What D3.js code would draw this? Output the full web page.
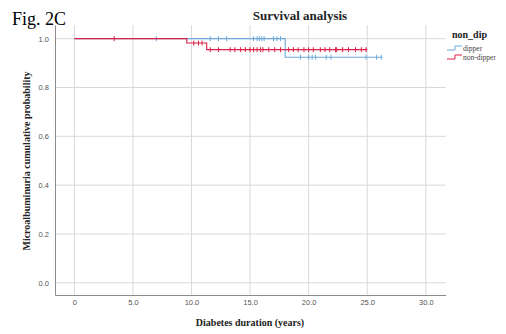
<!DOCTYPE html>
<html><head><meta charset="utf-8">
<script src="https://cdn.jsdelivr.net/npm/d3@7"></script>
<style>
html,body{margin:0;padding:0;background:#fff;}
svg{display:block;}
</style></head>
<body>
<svg id="chart" width="506" height="334"></svg>
<script>
// ---- data ----
const groups = ["dipper", "non-dipper"];
const dipperStepTimes = [0, 18.0];
const dipperStepSurv = [1.0, 0.924];
const dipperEnd = 26.3;
const dipperCensor = [7.0, 11.6, 12.3, 13.0, 15.3, 15.6, 15.8, 16.0, 16.2, 17.0, 17.3, 17.6,
  19.3, 20.0, 20.3, 20.6, 21.5, 21.9, 24.9, 25.8, 26.2];
const nonDipperStepTimes = [0, 9.6, 11.3];
const nonDipperStepSurv = [1.0, 0.982, 0.955];
const nonDipperEnd = 25.0;
const nonDipperCensor = [3.4, 10.2, 10.6, 10.9, 11.6, 12.3, 13.3, 13.7, 14.2, 14.6, 15.0, 15.3,
  15.6, 15.9, 16.1, 16.6, 17.1, 17.6, 18.3, 18.7, 19.1, 19.6, 20.0, 20.4, 21.0, 21.4, 21.8,
  22.3, 22.4, 22.9, 23.4, 24.0, 24.5, 24.9];
const xTicks = [0, 5, 10, 15, 20, 25, 30];
const xTickLabels = ["0", "5.0", "10.0", "15.0", "20.0", "25.0", "30.0"];
const yTicks = [0, 0.2, 0.4, 0.6, 0.8, 1.0];
const yTickLabels = ["0.0", "0.2", "0.4", "0.6", "0.8", "1.0"];

const colors = {"dipper": "#6ea8dc", "non-dipper": "#dc1f48"};
const serif = "'Liberation Serif', 'Times New Roman', serif";
const sans = "'Liberation Sans', Arial, sans-serif";

const svg = d3.select("#chart");
const L = 55, R = 445.7, T = 25, B = 295;
const x = d3.scaleLinear().domain([-1.65, 31.7]).range([L, R]);
const y = d3.scaleLinear().domain([-0.05, 1.056]).range([B, T]);

// grid
svg.append("g").selectAll("line").data(xTicks).join("line")
  .attr("x1", d => x(d)).attr("x2", d => x(d)).attr("y1", T).attr("y2", B)
  .attr("stroke", "#d9d9d9").attr("stroke-width", 1);
svg.append("g").selectAll("line").data(yTicks).join("line")
  .attr("x1", L).attr("x2", R).attr("y1", d => y(d)).attr("y2", d => y(d))
  .attr("stroke", "#d9d9d9").attr("stroke-width", 1);

// axes
const xAxis = d3.axisBottom(x).tickValues(xTicks).tickFormat((d, i) => xTickLabels[i]).tickSize(0).tickPadding(5);
const gx = svg.append("g").attr("transform", `translate(0,${B})`).call(xAxis);
gx.select(".domain").attr("stroke", "#8c8c8c");
gx.selectAll("text").attr("font-family", sans).attr("font-size", 7.5).attr("fill", "#555");

const yAxis = d3.axisLeft(y).tickValues(yTicks).tickFormat((d, i) => yTickLabels[i]).tickSize(0).tickPadding(6);
const gy = svg.append("g").attr("transform", `translate(${L},0)`).call(yAxis);
gy.select(".domain").attr("stroke", "#8c8c8c");
gy.selectAll("text").attr("font-family", sans).attr("font-size", 7.5).attr("fill", "#555");

// survival curves
function stepPoints(times, surv, end) {
  const pts = [];
  for (let i = 0; i < times.length; i++) {
    if (i > 0) pts.push([times[i], surv[i - 1]]);
    pts.push([times[i], surv[i]]);
  }
  pts.push([end, surv[surv.length - 1]]);
  return pts;
}
function survAt(times, surv, t) {
  let s = surv[0];
  for (let i = 0; i < times.length; i++) if (t >= times[i]) s = surv[i];
  return s;
}
const line = d3.line().x(d => x(d[0])).y(d => y(d[1]));
const series = [
  {name: "dipper", times: dipperStepTimes, surv: dipperStepSurv, end: dipperEnd, cens: dipperCensor},
  {name: "non-dipper", times: nonDipperStepTimes, surv: nonDipperStepSurv, end: nonDipperEnd, cens: nonDipperCensor}
];
series.forEach(s => {
  const g = svg.append("g");
  g.append("path").attr("d", line(stepPoints(s.times, s.surv, s.end)))
    .attr("fill", "none").attr("stroke", colors[s.name]).attr("stroke-width", 1.1);
  g.selectAll("line.c").data(s.cens).join("line").attr("class", "c")
    .attr("x1", d => x(d)).attr("x2", d => x(d))
    .attr("y1", d => y(survAt(s.times, s.surv, d)) - 2.5)
    .attr("y2", d => y(survAt(s.times, s.surv, d)) + 2.5)
    .attr("stroke", colors[s.name]).attr("stroke-width", 1);
});

// titles
svg.append("text").attr("x", 12).attr("y", 25).text("Fig. 2C")
  .attr("font-family", serif).attr("font-size", 18).attr("fill", "#000");
svg.append("text").attr("x", 300).attr("y", 20).attr("text-anchor", "middle").text("Survival analysis")
  .attr("font-family", serif).attr("font-size", 13).attr("font-weight", "bold").attr("fill", "#222");
svg.append("text").attr("x", 250).attr("y", 326).attr("text-anchor", "middle").text("Diabetes duration (years)")
  .attr("font-family", serif).attr("font-size", 10).attr("font-weight", "bold").attr("fill", "#222");
svg.append("text").attr("transform", "translate(30,161) rotate(-90)").attr("text-anchor", "middle")
  .text("Microalbuminuria cumulative probability")
  .attr("font-family", serif).attr("font-size", 10).attr("font-weight", "bold").attr("fill", "#222");

// legend
svg.append("text").attr("x", 452).attr("y", 38).text("non_dip")
  .attr("font-family", serif).attr("font-size", 10).attr("font-weight", "bold").attr("fill", "#222");
groups.forEach((gname, i) => {
  const yy = 48 + i * 9;
  svg.append("path").attr("d", `M447,${yy + 2}H455V${yy - 2}H462`)
    .attr("fill", "none").attr("stroke", colors[gname]).attr("stroke-width", 1);
  svg.append("text").attr("x", 463).attr("y", yy + 2.5).text(gname)
    .attr("font-family", serif).attr("font-size", 7.5).attr("fill", "#444");
});
</script>
</body></html>
